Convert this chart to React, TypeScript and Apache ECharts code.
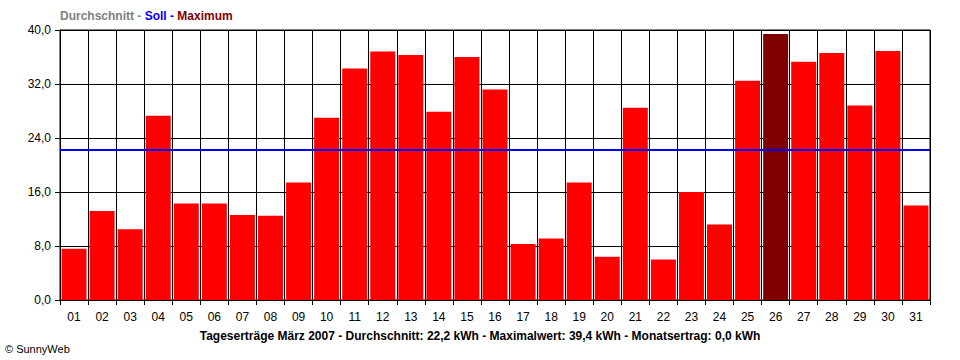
import React, { useEffect, useRef } from "react";
import * as echarts from "echarts";

const days = ["01","02","03","04","05","06","07","08","09","10","11","12","13","14","15","16","17","18","19","20","21","22","23","24","25","26","27","28","29","30","31"];
const yields = [7.6,13.2,10.5,27.3,14.3,14.3,12.6,12.5,17.4,27.0,34.3,36.8,36.3,27.9,36.0,31.2,8.3,9.1,17.4,6.4,28.5,6.0,16.0,11.2,32.5,39.4,35.3,36.6,28.8,36.9,14.0];
const average = 22.2;
const target = 22.3;
const maxDayIndex = 25;
const yTicks = { min: 0, max: 40, interval: 8 };
const titleText = "Tageserträge März 2007 - Durchschnitt: 22,2 kWh - Maximalwert: 39,4 kWh - Monatsertrag: 0,0 kWh";

const FONT = "Liberation Sans, Arial, sans-serif";

export default function App() {
  const ref = useRef<HTMLDivElement>(null);
  useEffect(() => {
    if (!ref.current) return;
    const chart = echarts.init(ref.current, null, { renderer: "svg" });
    chart.setOption({
      animation: false,
      backgroundColor: "#fff",
      textStyle: { fontFamily: FONT },
      grid: { left: 60, right: 30, top: 30, bottom: 60, show: true, borderColor: "#000", borderWidth: 1, backgroundColor: "transparent" },
      xAxis: {
        type: "category",
        data: days,
        boundaryGap: true,
        axisLine: { lineStyle: { color: "#000", width: 1 } },
        axisTick: { show: true, interval: 0, length: 5, lineStyle: { color: "#000" } },
        axisLabel: { interval: 0, color: "#000", fontSize: 12, margin: 11, fontFamily: FONT },
        splitLine: { show: true, interval: 0, lineStyle: { color: "#000", width: 1 } },
      },
      yAxis: {
        type: "value",
        min: yTicks.min,
        max: yTicks.max,
        interval: yTicks.interval,
        axisLine: { show: true, lineStyle: { color: "#000" } },
        axisTick: { show: true, length: 5, lineStyle: { color: "#000" } },
        axisLabel: { color: "#000", fontSize: 12, margin: 9, fontFamily: FONT, formatter: (v: number) => v.toFixed(1).replace(".", ",") },
        splitLine: { show: true, lineStyle: { color: "#000", width: 1 } },
      },
      series: [
        {
          type: "bar",
          data: yields.map((v, i) => (i === maxDayIndex ? { value: v, itemStyle: { color: "#800000" } } : v)),
          barCategoryGap: "11%",
          itemStyle: { color: "#ff0000" },
          markLine: {
            silent: true,
            symbol: "none",
            label: { show: false },
            data: [
              { yAxis: average, lineStyle: { color: "#808080", width: 1, type: "solid" } },
              { yAxis: target, lineStyle: { color: "#0000ff", width: 2, type: "solid" } },
            ],
          },
        },
      ],
      graphic: [
        {
          type: "text",
          left: 60,
          top: 10,
          style: {
            text: "{g|Durchschnitt - }{b|Soll - }{r|Maximum}",
            rich: {
              g: { fill: "#808080", fontWeight: "bold", fontSize: 12, fontFamily: FONT },
              b: { fill: "#0000ff", fontWeight: "bold", fontSize: 12, fontFamily: FONT },
              r: { fill: "#800000", fontWeight: "bold", fontSize: 12, fontFamily: FONT },
            },
          },
        },
        {
          type: "text",
          left: "center",
          top: 330,
          style: { text: titleText, fill: "#000", fontWeight: "bold", fontSize: 12, fontFamily: FONT },
        },
        {
          type: "text",
          left: 5,
          top: 343,
          style: { text: "© SunnyWeb", fill: "#000", fontSize: 11, fontFamily: FONT },
        },
      ],
    });
    return () => chart.dispose();
  }, []);
  return <div ref={ref} style={{ position: "fixed", left: 0, top: 0, width: 960, height: 360 }} />;
}
